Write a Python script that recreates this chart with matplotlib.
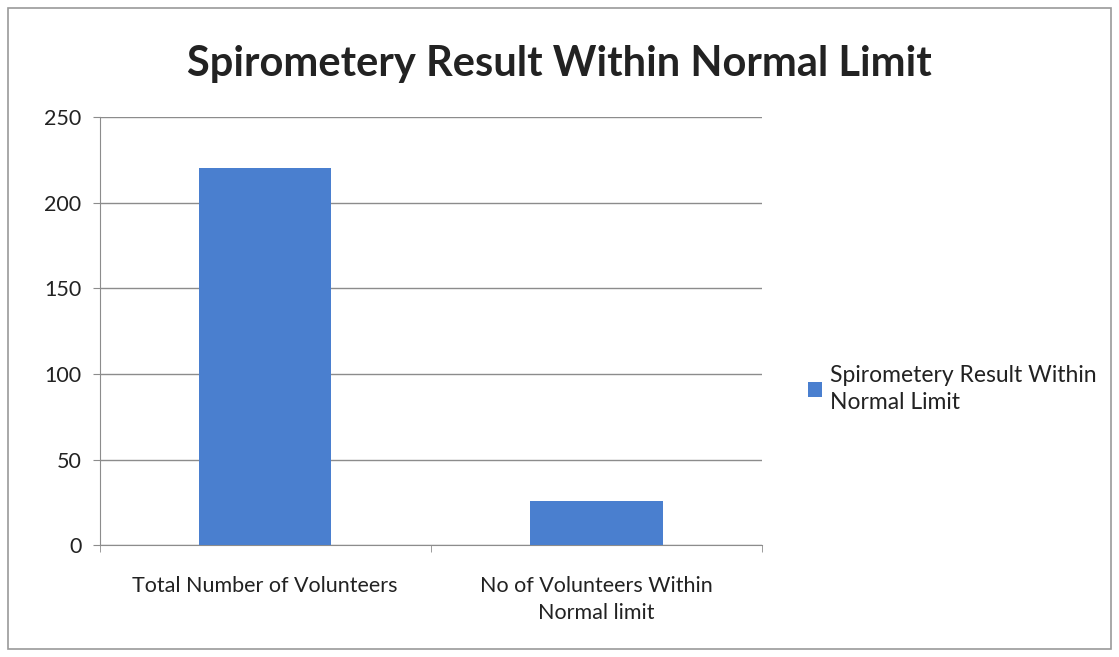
import matplotlib.pyplot as plt
import matplotlib.patches as patches
import numpy as np

categories = ['Total Number of Volunteers', 'No of Volunteers Within\nNormal limit']
values = [220, 26]
series_name = 'Spirometery Result Within\nNormal Limit'
title = 'Spirometery Result Within Normal Limit'

plt.rcParams['font.family'] = ['Lato', 'DejaVu Sans']

fig = plt.figure(figsize=(11.19, 6.57), dpi=100)
fig.patch.set_facecolor('white')
ax = fig.add_axes([0.089, 0.170, 0.592, 0.652])

x = np.arange(len(categories))
bars = ax.bar(x, values, width=0.4, color='#4a7fcf', label=series_name, zorder=3)

ax.set_xlim(-0.5, len(categories) - 0.5)
ax.set_ylim(0, 250)
ax.set_yticks(np.arange(0, 251, 50))
ax.yaxis.grid(True, color='#8c8c8c', linewidth=1.0, zorder=0)
ax.set_xticks(x)
ax.set_xticklabels(categories, fontsize=15.5, color='#222222', linespacing=1.45)
ax.tick_params(axis='x', length=0, pad=22)
ax.tick_params(axis='y', labelsize=15.5, colors='#222222', length=5, color='#8c8c8c', pad=8)
# category boundary ticks
ax.set_xticks([-0.5, 0.5, 1.5], minor=True)
ax.tick_params(axis='x', which='minor', length=5, color='#8c8c8c')

for s in ['top', 'right']:
    ax.spines[s].set_visible(False)
for s in ['left', 'bottom']:
    ax.spines[s].set_color('#8c8c8c')

fig.text(0.5, 0.903, title, ha='center', va='center', fontsize=30, fontweight='bold', color='#222222')

fig.legend(handles=[bars], labels=[series_name], loc='center left', bbox_to_anchor=(0.714, 0.408),
           frameon=False, fontsize=16.5, handlelength=0.6, handleheight=0.6, handletextpad=0.35,
           borderaxespad=0)
for t in fig.legends[0].get_texts():
    t.set_linespacing(1.4)
    t.set_color('#222222')

fig.add_artist(patches.Rectangle((0.007, 0.012), 0.986, 0.976, transform=fig.transFigure,
                                 fill=False, edgecolor='#9a9a9a', linewidth=1.2))

fig.savefig('out.png', dpi=100)
